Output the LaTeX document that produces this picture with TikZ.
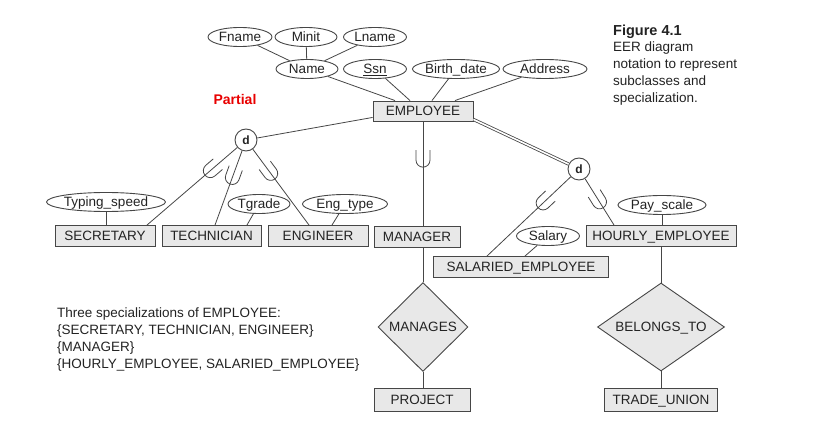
\documentclass[tikz,border=0pt]{standalone}
\usepackage{fontspec}
\setmainfont{Liberation Sans}
\usetikzlibrary{shapes.geometric,decorations.markings}

\definecolor{boxfill}{RGB}{232,232,232}
\definecolor{edgecol}{RGB}{70,70,70}
\definecolor{ink}{RGB}{35,35,35}
\definecolor{partialred}{RGB}{232,0,0}

\begin{document}
\begin{tikzpicture}[x=1pt,y=-1pt,
  every node/.style={text=ink, font=\fontsize{13.5}{16}\selectfont},
  entity/.style={draw=edgecol, fill=boxfill, rectangle, minimum height=21pt, inner sep=0pt, line width=0.9pt, text height=9.7pt, text depth=0pt},
  attr/.style={draw=edgecol, fill=white, ellipse, minimum height=19pt, inner sep=0pt, line width=0.9pt, text height=9.7pt, text depth=0pt},
  rel/.style={draw=edgecol, fill=boxfill, diamond, inner sep=0pt, line width=0.9pt, text height=9.7pt, text depth=0pt},
  dcircle/.style={draw=edgecol, fill=white, circle, minimum size=22pt, inner sep=0pt, font=\fontsize{12}{14}\selectfont\bfseries, line width=0.9pt},
  conn/.style={draw=edgecol, line width=0.8pt},
  subsetmark/.style={postaction={decorate}, decoration={markings, mark=at position #1 with {\draw[edgecol, line width=0.8pt] (-10pt,7pt) -- (0pt,7pt) arc[start angle=90, end angle=-90, radius=7pt] -- (-10pt,-7pt);}}},
]
\useasboundingbox (0,0) rectangle (836,438);

% attributes of EMPLOYEE
\node[attr, minimum width=64pt] (fname) at (240,37) {Fname};
\node[attr, minimum width=62pt] (minit) at (306,37) {Minit};
\node[attr, minimum width=63pt] (lname) at (375,37) {Lname};
\node[attr, minimum width=62pt] (name) at (307,69) {Name};
\node[attr, minimum width=63pt] (ssn) at (375,69) {\underline{Ssn}};
\node[attr, minimum width=87pt] (bdate) at (456,69) {Birth\_date};
\node[attr, minimum width=84pt] (addr) at (545,69) {Address};
\node[entity, minimum width=100pt, minimum height=20pt] (emp) at (423,111) {EMPLOYEE};

\node[font=\fontsize{14}{16}\selectfont\bfseries, text=partialred, inner sep=0pt] (partial) at (235,99) {Partial};

% specialization circles
\node[dcircle] (d1) at (246,140) {d};
\node[dcircle] (d2) at (579,169) {d};

% subclasses
\node[entity, minimum width=100pt] (sec) at (105,236) {SECRETARY};
\node[entity, minimum width=99pt] (tech) at (211.5,236) {TECHNICIAN};
\node[entity, minimum width=100pt] (eng) at (318,236) {ENGINEER};
\node[entity, minimum width=86pt] (mgr) at (417,237) {MANAGER};
\node[entity, minimum width=150pt] (hourly) at (661,236) {HOURLY\_EMPLOYEE};
\node[entity, minimum width=175pt] (sal) at (521,267) {SALARIED\_EMPLOYEE};

% local attributes
\node[attr, minimum width=102pt] (typing) at (106,202) {Typing\_speed};
\node[attr, minimum width=62pt] (tgrade) at (259,204) {Tgrade};
\node[attr, minimum width=85pt] (engtype) at (345,204) {Eng\_type};
\node[attr, minimum width=63pt] (salary) at (548,236) {Salary};
\node[attr, minimum width=83pt] (payscale) at (662,205) {Pay\_scale};

% relationships
\node[rel, minimum width=90pt, minimum height=89pt] (manages) at (423,327) {MANAGES};
\node[rel, minimum width=127pt, minimum height=88pt, aspect=1.4] (belongs) at (661,327) {BELONGS\_TO};
\node[entity, minimum width=96pt, minimum height=23pt] (proj) at (422,400) {PROJECT};
\node[entity, minimum width=113pt, minimum height=23pt] (tu) at (661,400) {TRADE\_UNION};

% texts
\node[anchor=north west, align=left, inner sep=0pt, font=\fontsize{13.5}{17}\selectfont] (spec) at (57,308) {Three specializations of EMPLOYEE:\\ \{SECRETARY, TECHNICIAN, ENGINEER\}\\ \{MANAGER\}\\ \{HOURLY\_EMPLOYEE, SALARIED\_EMPLOYEE\}};
\node[anchor=north west, align=left, inner sep=0pt, font=\fontsize{13.5}{16.7}\selectfont] (cap) at (613,24.5) {{\fontsize{14.5}{16.7}\selectfont\bfseries Figure 4.1}\\ EER diagram\\ notation to represent\\ subclasses and\\ specialization.};

% attribute connectors
\draw[conn] (fname) -- (name);
\draw[conn] (minit) -- (name);
\draw[conn] (lname) -- (name);
\draw[conn] (name) -- ([xshift=-28pt]emp.north);
\draw[conn] (ssn) -- ([xshift=-13pt]emp.north);
\draw[conn] (bdate) -- ([xshift=9pt]emp.north);
\draw[conn] (addr) -- ([xshift=32pt]emp.north);

% superclass to specializations
\draw[conn] ([yshift=4pt]emp.south west) -- (d1);
\draw[conn, double=white, double distance=1.6pt] ([yshift=2pt]emp.south east) -- (d2);

\draw[conn, subsetmark=0.30] (d1) -- ([xshift=42pt]sec.north);
\draw[conn, subsetmark=0.36] (d1) -- ([xshift=3.5pt]tech.north);
\draw[conn, subsetmark=0.32] (d1) -- ([xshift=-9pt]eng.north);
\draw[conn, subsetmark=0.37] (emp.south) -- (emp.south |- mgr.north);
\draw[conn, subsetmark=0.33] (d2) -- ([xshift=-34pt]sal.north);
\draw[conn, subsetmark=0.50] (d2) -- ([xshift=-47pt]hourly.north);

% local attribute connectors
\draw[conn] (typing) -- (typing |- sec.north);
\draw[conn] (tgrade) -- ([xshift=35.5pt]tech.north);
\draw[conn] (engtype) -- ([xshift=14pt]eng.north);
\draw[conn] (salary) -- ([xshift=4pt]sal.north);
\draw[conn] (payscale) -- (payscale |- hourly.north);

% relationships
\draw[conn] (emp.south |- mgr.south) -- (manages.north);
\draw[conn] (manages.south) -- (manages.south |- proj.north);
\draw[conn] (hourly.south -| belongs.north) -- (belongs.north);
\draw[conn] (belongs.south) -- (belongs.south |- tu.north);
\end{tikzpicture}
\end{document}
